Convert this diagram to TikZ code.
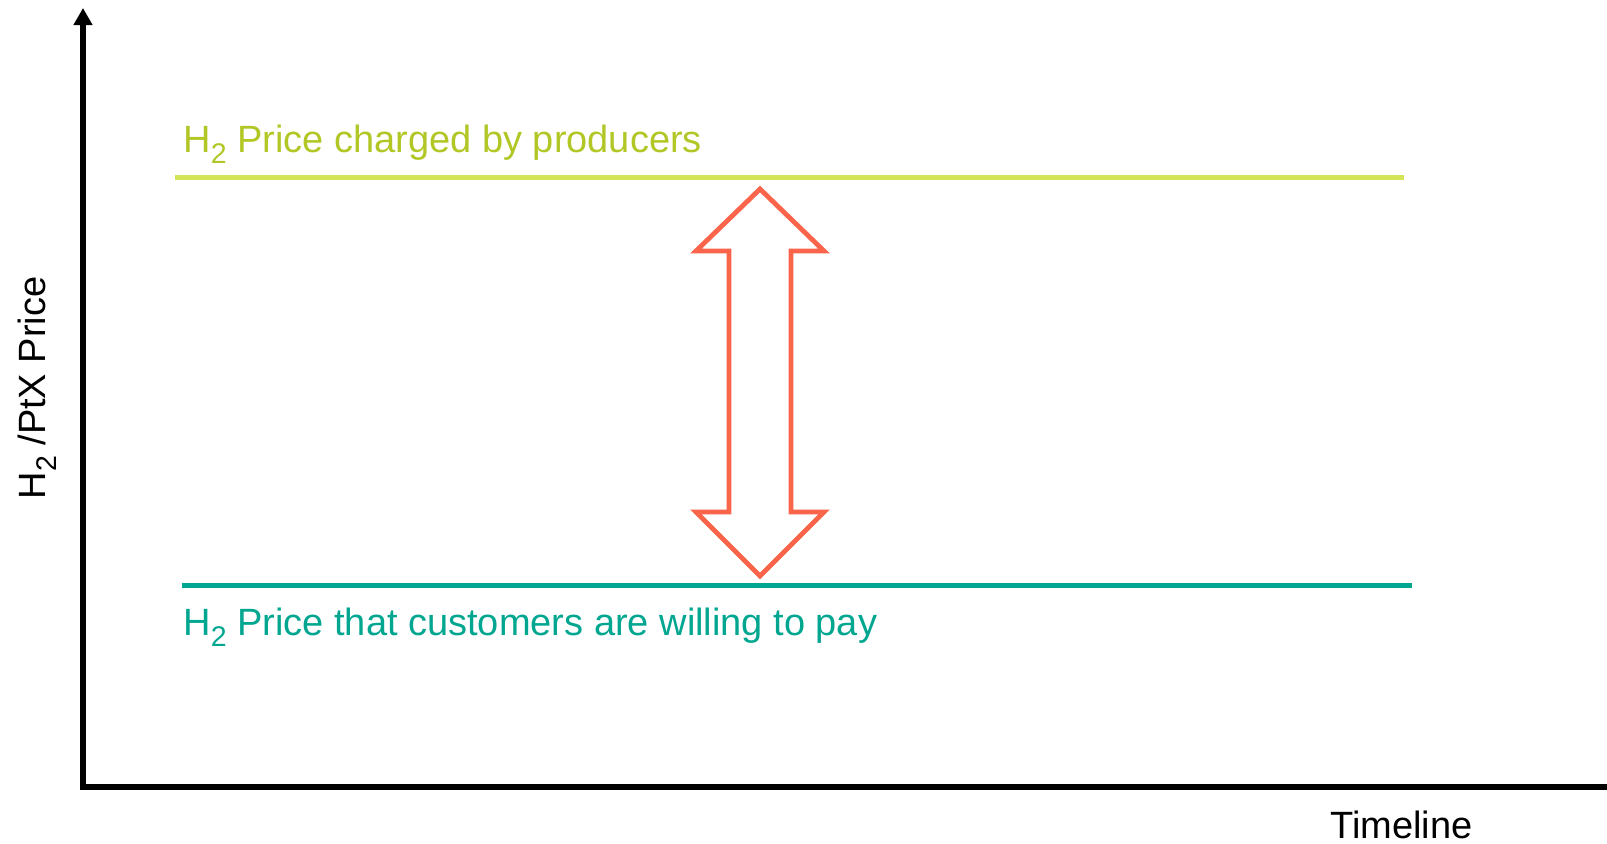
\documentclass[tikz,border=0pt]{standalone}
\usepackage{fontspec}
\setmainfont{Liberation Sans}
\usetikzlibrary{arrows.meta}

\definecolor{limetext}{RGB}{178,199,38}
\definecolor{limeline}{RGB}{212,228,87}
\definecolor{tealline}{RGB}{0,166,143}
\definecolor{gapred}{RGB}{250,100,75}
\newcommand{\Htwo}{H\raisebox{-0.3em}{\scalebox{0.75}{2}}}

\begin{document}
\begin{tikzpicture}[
  x=0.5pt, y=-0.5pt,
  font=\fontsize{19}{23}\selectfont,
  axis/.style={line width=2.8pt, black},
  priceline/.style={line width=2.5pt},
  pricetext/.style={anchor=base west, inner sep=0pt},
  gaparrow/.style={draw=gapred, line width=2.4pt, fill=white, line join=miter}
]
\useasboundingbox (0,0) rectangle (1607,843);

% axes
\coordinate (ytop) at (83,8);
\coordinate (origin) at (83,787);
\coordinate (xend) at (1607,787);
\draw[axis, {Triangle[length=8.5pt, width=9pt]}-] (ytop) -- (origin) -- (xend);

\node[anchor=base, rotate=90, inner sep=0pt] (ylabel) at (45,388) {\Htwo\ /PtX Price};
\node[anchor=base west, inner sep=0pt] (timeline) at (1330,838) {Timeline};

% the two price levels
\coordinate (top-l) at (175,177);
\coordinate (top-r) at (1404,177);
\coordinate (low-l) at (182,585);
\coordinate (low-r) at (1412,585);
\draw[priceline, limeline] (top-l) -- (top-r);
\draw[priceline, tealline] (low-l) -- (low-r);

\node[pricetext, text=limetext] (producers) at (183,152) {\Htwo\ Price charged by producers};
\node[pricetext, text=tealline] (customers) at (183,635) {\Htwo\ Price that customers are willing to pay};

% gap between them
\draw[gaparrow] (760,189) -- (824,251) -- (791,251) -- (791,512) -- (824,512)
  -- (760,576) -- (696,512) -- (729,512) -- (729,251) -- (696,251) -- cycle;

\end{tikzpicture}
\end{document}
